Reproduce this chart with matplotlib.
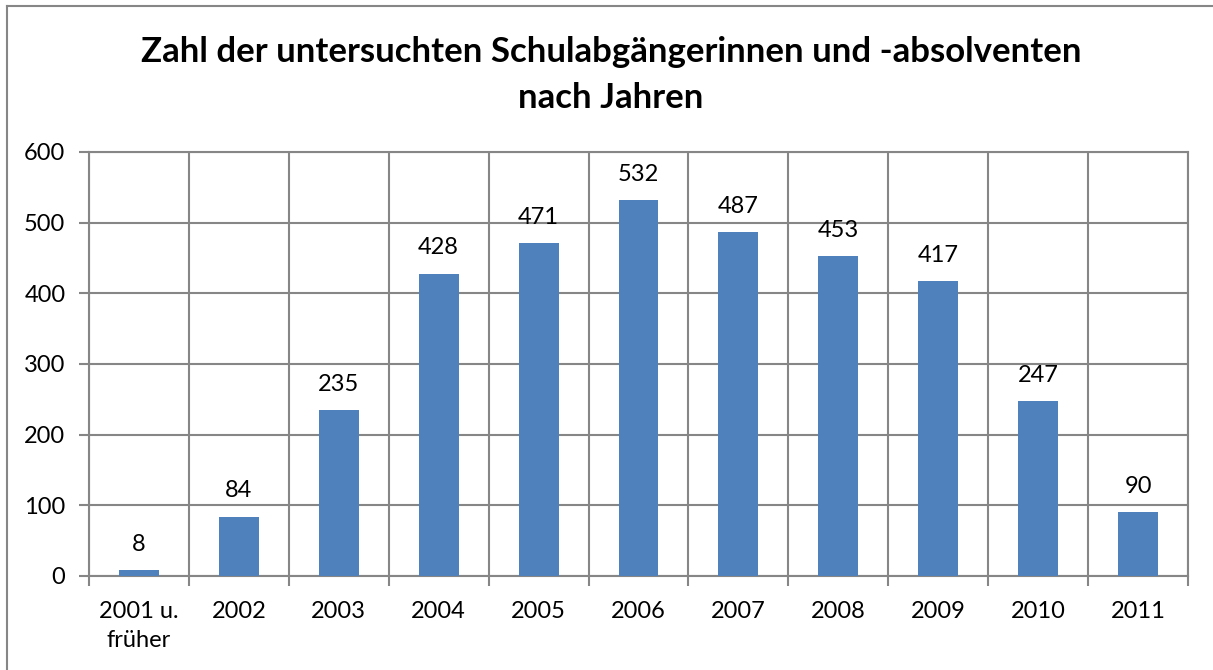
import matplotlib.pyplot as plt
from matplotlib.lines import Line2D

categories = ['2001 u.\nfrüher', '2002', '2003', '2004', '2005', '2006',
              '2007', '2008', '2009', '2010', '2011']
counts = [8, 84, 235, 428, 471, 532, 487, 453, 417, 247, 90]
yticks = [0, 100, 200, 300, 400, 500, 600]

plt.rcParams['font.family'] = ['Lato', 'DejaVu Sans']
grid_col = '#868686'
bar_col = '#4F81BD'

W, H = 1213, 670
fig = plt.figure(figsize=(W / 100, H / 100), dpi=100)
# Plotbereich in Pixeln: links 89, rechts 1188, oben 152, unten 576
ax = fig.add_axes([89 / W, 1 - 576 / H, (1188 - 89) / W, (576 - 152) / H])

x = list(range(len(categories)))
ax.bar(x, counts, width=0.4, color=bar_col, zorder=3)
for xi, v in zip(x, counts):
    ax.annotate(str(v), (xi, v), xytext=(0, 11), textcoords='offset points',
                ha='center', va='bottom', fontsize=17, color='black')

ax.set_xlim(-0.5, len(categories) - 0.5)
ax.set_ylim(0, 600)
ax.set_yticks(yticks)
ax.set_yticklabels([str(t) for t in yticks], fontsize=17)
ax.set_xticks(x)
ax.set_xticklabels(categories, fontsize=17, linespacing=1.45, va='top')
ax.tick_params(axis='x', length=0, pad=18)
ax.tick_params(axis='y', length=7, width=1.5, color=grid_col, pad=10)

# senkrechte Linien zwischen den Kategorien
ax.set_xticks([i - 0.5 for i in range(len(categories) + 1)], minor=True)
ax.tick_params(axis='x', which='minor', length=7, width=1.5, color=grid_col)
ax.grid(axis='x', which='minor', color=grid_col, linewidth=1.5, zorder=0)
ax.grid(axis='y', which='major', color=grid_col, linewidth=1.5, zorder=0)

for s in ax.spines.values():
    s.set_color(grid_col)
    s.set_linewidth(1.5)

fig.text(611 / W, 1 - 75 / H,
         'Zahl der untersuchten Schulabgängerinnen und -absolventen\nnach Jahren',
         ha='center', va='center', fontsize=25, fontweight='bold',
         linespacing=1.5)

# Rahmen um das Diagramm (nur links und oben sichtbar)
fig.add_artist(Line2D([7 / W, 7 / W], [0, 1 - 6 / H], transform=fig.transFigure,
                      color=grid_col, linewidth=1.5))
fig.add_artist(Line2D([7 / W, 1], [1 - 6 / H, 1 - 6 / H], transform=fig.transFigure,
                      color=grid_col, linewidth=1.5))

fig.savefig('out.png', dpi=100)
